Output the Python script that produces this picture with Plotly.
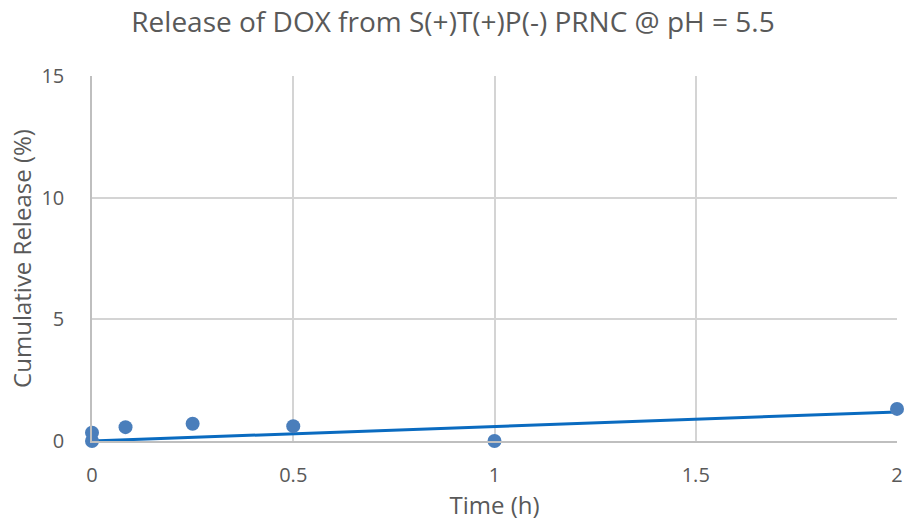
import numpy as np
import plotly.graph_objects as go

# Cumulative DOX release measurements
time_h = [0, 0, 0.0833, 0.25, 0.5, 1, 2]
release_pct = [0.0, 0.34, 0.57, 0.71, 0.61, 0.0, 1.32]

x_ticks = [0, 0.5, 1, 1.5, 2]
x_tick_text = ["0", "0.5", "1", "1.5", "2"]
y_ticks = [0, 5, 10, 15]

# Linear trendline forced through the origin
xa = np.array(time_h)
ya = np.array(release_pct)
slope = float((xa * ya).sum() / (xa * xa).sum())
trend_x = [0, 2]
trend_y = [slope * v for v in trend_x]

font_family = "Open Sans, Liberation Sans, sans-serif"
text_grey = "#595959"

fig = go.Figure()
fig.add_trace(go.Scatter(
    x=trend_x, y=trend_y, mode="lines",
    line=dict(color="#0A6BC0", width=3),
    cliponaxis=False, showlegend=False, hoverinfo="skip",
))
fig.add_trace(go.Scatter(
    x=time_h, y=release_pct, mode="markers",
    marker=dict(color="#4A7EBB", size=14),
    cliponaxis=False, showlegend=False,
))

fig.update_layout(
    width=906, height=527,
    margin=dict(l=92, r=9, t=76, b=86),
    paper_bgcolor="white", plot_bgcolor="white",
    font=dict(family=font_family, color=text_grey),
    title=dict(
        text="Release of DOX from S(+)T(+)P(-) PRNC @ pH = 5.5",
        x=0.5, xanchor="center", y=0.958, yanchor="middle",
        font=dict(size=28, color=text_grey, family=font_family),
    ),
    xaxis=dict(
        range=[0, 2], tickvals=x_ticks, ticktext=x_tick_text,
        showgrid=True, gridcolor="#D4D4D4", gridwidth=1.5,
        zeroline=False, showline=True, linecolor="#BFBFBF", linewidth=1.5,
        ticks="", ticklabelstandoff=15, tickfont=dict(size=20, color=text_grey),
        title=dict(text="Time (h)", font=dict(size=24, color=text_grey), standoff=10),
        automargin=False,
    ),
    yaxis=dict(
        range=[0, 15], tickvals=y_ticks,
        showgrid=True, gridcolor="#D4D4D4", gridwidth=1.5,
        zeroline=False, showline=True, linecolor="#BFBFBF", linewidth=1.5,
        ticks="", ticklabelstandoff=22, tickfont=dict(size=20, color=text_grey),
        title=dict(text="Cumulative Release (%)", font=dict(size=24, color=text_grey), standoff=3),
        automargin=False,
    ),
)

fig.write_html("out.html")
